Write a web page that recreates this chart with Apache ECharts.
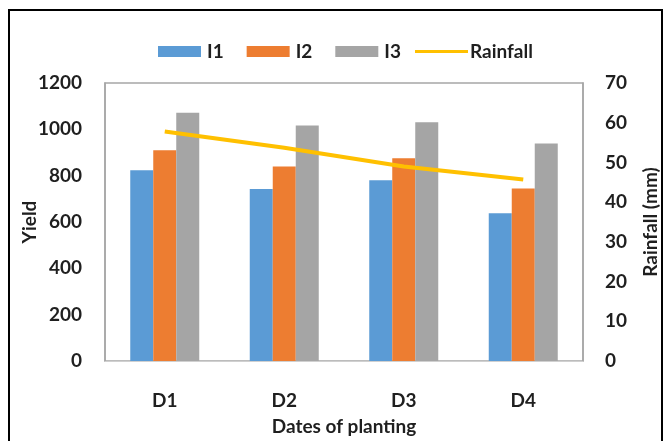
<!DOCTYPE html>
<html>
<head>
<meta charset="utf-8">
<script src="https://cdn.jsdelivr.net/npm/echarts@6/dist/echarts.min.js"></script>
<style>
  html, body { margin: 0; padding: 0; background: #fff; }
  #chart { width: 670px; height: 441px; }
</style>
</head>
<body>
<div id="chart"></div>
<script>
// Planting dates and yields under three treatments, with rainfall per date
const categories = ['D1', 'D2', 'D3', 'D4'];
const i1 = [823, 742, 780, 638];
const i2 = [910, 840, 875, 745];
const i3 = [1072, 1017, 1031, 939];
const rainfall = [57.8, 53.7, 49.0, 45.7];
const yieldTicks = { min: 0, max: 1200, interval: 200 };
const rainTicks = { min: 0, max: 70, interval: 10 };

const FONT = 'Lato';
const TEXT = '#1f1f1f';
const txt = { fontFamily: FONT, fontWeight: 'bold', fontSize: 19, color: TEXT };

const chart = echarts.init(document.getElementById('chart'), null, { renderer: 'canvas' });

const barSeries = (name, data, color) => ({
  name, type: 'bar', data, yAxisIndex: 0,
  barWidth: 23, barGap: '0%',
  itemStyle: { color },
  emphasis: { disabled: true }
});

chart.setOption({
  animation: false,
  backgroundColor: '#fff',
  graphic: [{
    type: 'rect', z: 100, silent: true,
    shape: { x: 9, y: 10, width: 653, height: 440 },
    style: { fill: 'none', stroke: '#000', lineWidth: 2 }
  }],
  legend: [{
    data: ['I1', 'I2', 'I3'],
    left: 153, top: 37,
    icon: 'rect', itemWidth: 43, itemHeight: 11, itemGap: 23,
    textStyle: Object.assign({}, txt, { padding: [0, 0, 0, 1] })
  }, {
    data: ['Rainfall'],
    left: 410, top: 37,
    icon: 'rect', itemWidth: 53, itemHeight: 3, itemGap: 0,
    textStyle: Object.assign({}, txt, { padding: [0, 0, 0, -3] })
  }],
  grid: {
    left: 105, right: 87, top: 83, bottom: 76,
    show: true, borderColor: '#a6a6a6', borderWidth: 1.5
  },
  xAxis: {
    type: 'category', data: categories,
    name: 'Dates of planting', nameLocation: 'middle', nameGap: 56,
    nameMoveOverlap: false,
    nameTextStyle: txt,
    axisLine: { show: true, lineStyle: { color: '#d0d0d0' } },
    axisTick: { show: false },
    axisLabel: Object.assign({}, txt, { margin: 30 })
  },
  yAxis: [{
    type: 'value', position: 'left',
    min: yieldTicks.min, max: yieldTicks.max, interval: yieldTicks.interval,
    name: 'Yield', nameLocation: 'middle', nameGap: 66, nameRotate: 90,
    nameMoveOverlap: false,
    nameTextStyle: txt,
    axisLine: { show: true, lineStyle: { color: '#a6a6a6', width: 1.5 } },
    axisTick: { show: false },
    splitLine: { show: false },
    axisLabel: Object.assign({}, txt, { margin: 23, formatter: v => String(v) })
  }, {
    type: 'value', position: 'right',
    min: rainTicks.min, max: rainTicks.max, interval: rainTicks.interval,
    name: 'Rainfall (mm)', nameLocation: 'middle', nameGap: 58, nameRotate: 90,
    nameMoveOverlap: false,
    nameTextStyle: txt,
    axisLine: { show: true, lineStyle: { color: '#a6a6a6', width: 1.5 } },
    axisTick: { show: false },
    splitLine: { show: false },
    axisLabel: Object.assign({}, txt, { margin: 22 })
  }],
  series: [
    barSeries('I1', i1, '#5B9BD5'),
    barSeries('I2', i2, '#ED7D31'),
    barSeries('I3', i3, '#A5A5A5'),
    {
      name: 'Rainfall', type: 'line', data: rainfall, yAxisIndex: 1,
      symbol: 'none', z: 5,
      lineStyle: { color: '#FFC000', width: 4 },
      itemStyle: { color: '#FFC000' },
      emphasis: { disabled: true }
    }
  ]
});
</script>
</body>
</html>
